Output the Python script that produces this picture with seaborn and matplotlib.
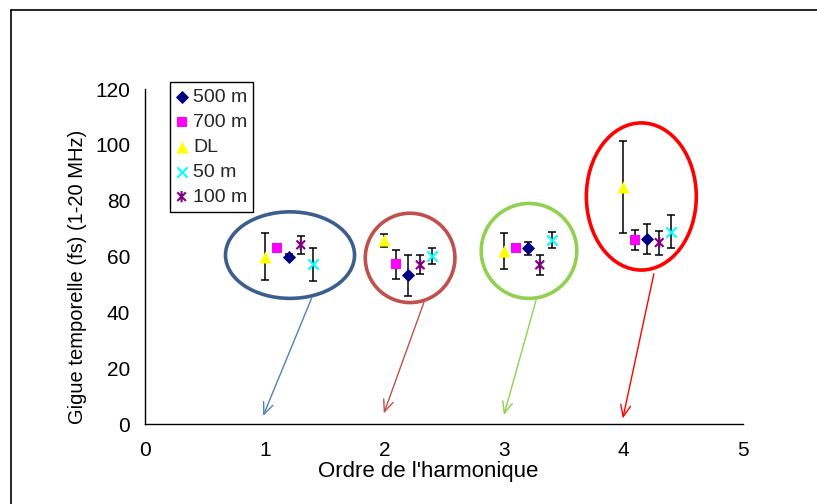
import numpy as np
import pandas as pd
import matplotlib.pyplot as plt
import seaborn as sns
from matplotlib.patches import Ellipse
from matplotlib.lines import Line2D
from matplotlib.path import Path

# data: x = harmonic order (offset per serie), y = jitter (fs), err = +/- error
x_500 = [1.2, 2.2, 3.2, 4.2]
y_500 = [60.0, 53.2, 63.0, 66.2]
e_500 = [1.0, 7.5, 2.3, 5.4]

x_700 = [1.1, 2.1, 3.1, 4.1]
y_700 = [63.0, 57.2, 63.0, 65.9]
e_700 = [1.0, 5.3, 1.0, 3.6]

x_dl = [1.0, 2.0, 3.0, 4.0]
y_dl = [60.0, 65.8, 61.9, 85.0]
e_dl = [8.3, 2.3, 6.4, 16.5]

x_50 = [1.4, 2.4, 3.4, 4.4]
y_50 = [57.2, 60.2, 65.9, 68.9]
e_50 = [6.0, 3.0, 2.8, 5.8]

x_100 = [1.3, 2.3, 3.3, 4.3]
y_100 = [64.2, 57.0, 57.0, 65.0]
e_100 = [3.3, 3.4, 3.6, 4.3]

x_ticks = [0, 1, 2, 3, 4, 5]
y_ticks = [0, 20, 40, 60, 80, 100, 120]

sns.set_theme(style="white")
plt.rcParams['font.family'] = ['Liberation Sans', 'DejaVu Sans']

# excel-like star: x with a vertical bar
star = Path([(-1, -1), (1, 1), (-1, 1), (1, -1), (0, -1.3), (0, 1.3)],
            [Path.MOVETO, Path.LINETO, Path.MOVETO, Path.LINETO, Path.MOVETO, Path.LINETO])

series = [
    ("500 m", x_500, y_500, e_500, "D", "#000080", 45),
    ("700 m", x_700, y_700, e_700, "s", "#FF00FF", 60),
    ("DL", x_dl, y_dl, e_dl, "^", "#FFFF00", 75),
    ("50 m", x_50, y_50, e_50, "x", "#00FFFF", 55),
    ("100 m", x_100, y_100, e_100, star, "#800080", 65),
]

fig = plt.figure(figsize=(8.17, 5.04), dpi=100)
ax = fig.add_axes([0.178, 0.1587, 0.7313, 0.6647])

for name, xs, ys, es, mk, col, sz in series:
    ax.errorbar(xs, ys, yerr=es, fmt="none", ecolor="black", elinewidth=1.1,
                capsize=3, capthick=1.1, zorder=2)
    df = pd.DataFrame({"x": xs, "y": ys})
    if mk == "x":
        sns.scatterplot(data=df, x="x", y="y", marker=mk, color=col, s=sz,
                        linewidth=1.5, label=name, ax=ax, zorder=3)
    elif isinstance(mk, str):
        sns.scatterplot(data=df, x="x", y="y", marker=mk, color=col, s=sz,
                        edgecolor=col, linewidth=0, label=name, ax=ax, zorder=3)
    else:
        sns.scatterplot(data=df, x="x", y="y", marker=mk, color=col, s=sz,
                        facecolor="none", edgecolor=col, linewidth=1.5,
                        label=name, ax=ax, zorder=3)

# circles grouping the points for each harmonic
ellipses = [
    ((1.21, 60.5), 1.08, 31.0, "#3B5E8C"),
    ((2.215, 59.5), 0.75, 32.0, "#C0504D"),
    ((3.21, 62.0), 0.80, 34.0, "#92D050"),
    ((4.15, 81.5), 0.92, 52.7, "#FF0000"),
]
for c, w, h, col in ellipses:
    ax.add_patch(Ellipse(c, w, h, fill=False, edgecolor=col, linewidth=2.6, zorder=1))

arrows = [
    ((1.39, 45.0), (0.985, 2.9), "#4F81BD"),
    ((2.33, 43.5), (1.995, 3.8), "#C0504D"),
    ((3.27, 44.5), (3.0, 3.2), "#92D050"),
    ((4.255, 53.8), (3.995, 2.0), "#FF0000"),
]
for start, end, col in arrows:
    ax.annotate("", xy=end, xytext=start,
                arrowprops=dict(arrowstyle="->,head_length=0.7,head_width=0.3",
                                color=col, lw=1.0, shrinkA=0, shrinkB=0))

ax.set_xlim(0, 5)
ax.set_ylim(0, 120)
ax.set_xticks(x_ticks)
ax.set_yticks(y_ticks)
ax.tick_params(axis="both", direction="inout", length=8, width=1, color="black",
               labelsize=15, labelcolor="black")
ax.tick_params(axis="x", pad=8)
ax.tick_params(axis="y", pad=7)
sns.despine(ax=ax)
for s in ("left", "bottom"):
    ax.spines[s].set_color("black")
    ax.spines[s].set_linewidth(1)

ax.set_xlabel("Ordre de l'harmonique", fontsize=16, labelpad=1, color="black")
ax.set_ylabel("Gigue temporelle (fs) (1-20 MHz)", fontsize=14.5, labelpad=6, color="black")
ax.xaxis.label.set_x(0.474)
ax.yaxis.label.set_y(0.44)

leg = ax.legend(loc="upper left", bbox_to_anchor=(0.041, 1.02), fontsize=14,
                frameon=True, fancybox=False, edgecolor="black", framealpha=1,
                handlelength=0.6, handletextpad=0.3, labelspacing=0.38,
                borderpad=0.3, borderaxespad=0)
leg.get_frame().set_linewidth(1)

# outer chart frame (only left and top edges visible)
fig.add_artist(Line2D([11 / 817, 11 / 817], [0, 1 - 10 / 504], color="black", lw=1.2))
fig.add_artist(Line2D([11 / 817, 1], [1 - 10 / 504, 1 - 10 / 504], color="black", lw=1.2))

fig.savefig("out.png", dpi=100)
